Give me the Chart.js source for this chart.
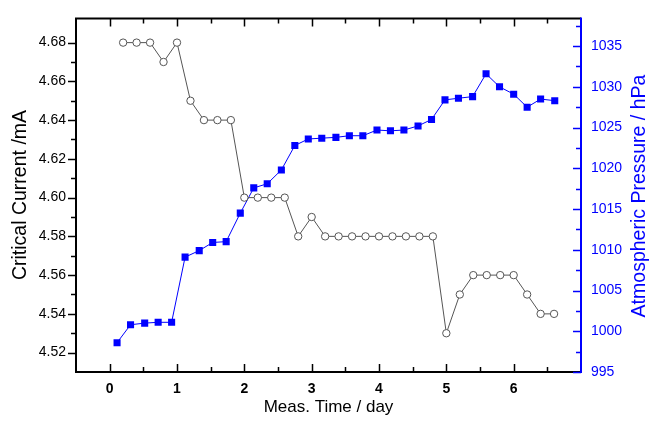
<!DOCTYPE html>
<html>
<head>
<meta charset="utf-8">
<script src="https://cdn.jsdelivr.net/npm/chart.js@4.4.1/dist/chart.umd.min.js"></script>
<style>
  html, body { margin: 0; padding: 0; background: #fff; }
  #wrap { width: 660px; height: 421px; position: relative; }
</style>
</head>
<body>
<div id="wrap"><canvas id="chart"></canvas></div>
<script>
// critical current, sampled every 0.2 day
const timeCurrent = [0.2, 0.4, 0.6, 0.8, 1.0, 1.2, 1.4, 1.6, 1.8, 2.0, 2.2, 2.4, 2.6, 2.8, 3.0, 3.2, 3.4,
	3.6, 3.8, 4.0, 4.2, 4.4, 4.6, 4.8, 5.0, 5.2, 5.4, 5.6, 5.8, 6.0, 6.2, 6.4, 6.6];
const current = [4.68, 4.68, 4.68, 4.67, 4.68, 4.65, 4.64, 4.64, 4.64, 4.60, 4.60, 4.60, 4.60, 4.58, 4.59, 4.58, 4.58,
	4.58, 4.58, 4.58, 4.58, 4.58, 4.58, 4.58, 4.53, 4.55, 4.56, 4.56, 4.56, 4.56, 4.55, 4.54, 4.54];

// atmospheric pressure
const timePressure = [0.11, 0.31, 0.52, 0.72, 0.92, 1.12, 1.33, 1.53, 1.73, 1.94, 2.14, 2.34, 2.55, 2.75, 2.95, 3.15, 3.36,
	3.56, 3.76, 3.97, 4.17, 4.37, 4.58, 4.78, 4.98, 5.18, 5.39, 5.59, 5.79, 6.00, 6.20, 6.40, 6.61];
const pressure = [998.6, 1000.8, 1001.0, 1001.1, 1001.1, 1009.1, 1009.9, 1010.9, 1011.0, 1014.5, 1017.6, 1018.1, 1019.8,
	1022.8, 1023.6, 1023.7, 1023.8, 1024.0, 1024.0, 1024.7, 1024.6, 1024.7, 1025.2, 1026.0, 1028.4, 1028.6, 1028.8,
	1031.6, 1030.0, 1029.1, 1027.5, 1028.5, 1028.3];

const xTicks = [0, 1, 2, 3, 4, 5, 6];
const xMinor = [0.5, 1.5, 2.5, 3.5, 4.5, 5.5, 6.5];
const currentTicks = [4.52, 4.54, 4.56, 4.58, 4.60, 4.62, 4.64, 4.66, 4.68];
const currentMinor = [4.53, 4.55, 4.57, 4.59, 4.61, 4.63, 4.65, 4.67];
const pressureTicks = [995, 1000, 1005, 1010, 1015, 1020, 1025, 1030, 1035];
const pressureMinor = [997.5, 1002.5, 1007.5, 1012.5, 1017.5, 1022.5, 1027.5, 1032.5, 1037.5];

const FONT = 'Arial, "Liberation Sans", sans-serif';
const BLUE = "#0000ff";

const toPairs = (xs, ys) => xs.map((x, i) => ({ x: x, y: ys[i] }));
const fixTicks = (list) => (scale) => {
	scale.ticks = list.map((v) => ({ value: v }));
};

function verticalTitle(ctx, text, x, y, color) {
	ctx.save();
	ctx.translate(x, y);
	ctx.rotate(-Math.PI / 2);
	ctx.fillStyle = color;
	ctx.font = "19.5px " + FONT;
	ctx.textAlign = "center";
	ctx.textBaseline = "middle";
	ctx.fillText(text, 0, 0);
	ctx.restore();
}

// frame, tick marks and both vertical titles
const framePlugin = {
	id: "frame",
	afterDraw(chart) {
		const ctx = chart.ctx;
		const { left, right, top, bottom } = chart.chartArea;
		const sx = chart.scales.x;
		const sl = chart.scales.yCurrent;
		const sr = chart.scales.yPressure;

		ctx.save();
		ctx.lineWidth = 2;
		ctx.lineCap = "butt";

		ctx.strokeStyle = "#000";
		ctx.beginPath();
		ctx.moveTo(right, top);
		ctx.lineTo(left, top);
		ctx.lineTo(left, bottom);
		ctx.lineTo(right, bottom);
		ctx.stroke();

		ctx.lineWidth = 1.5;
		const xMark = (v, len) => {
			const px = Math.round(sx.getPixelForValue(v)) + 0.5;
			ctx.moveTo(px, bottom);
			ctx.lineTo(px, bottom - len);
			ctx.moveTo(px, top);
			ctx.lineTo(px, top + len);
		};
		ctx.beginPath();
		xTicks.forEach((v) => xMark(v, 8));
		xMinor.forEach((v) => xMark(v, 5));
		currentTicks.forEach((v) => {
			const py = Math.round(sl.getPixelForValue(v)) + 0.5;
			ctx.moveTo(left, py);
			ctx.lineTo(left - 8, py);
		});
		currentMinor.forEach((v) => {
			const py = Math.round(sl.getPixelForValue(v)) + 0.5;
			ctx.moveTo(left, py);
			ctx.lineTo(left - 5, py);
		});
		ctx.stroke();

		ctx.strokeStyle = BLUE;
		ctx.lineWidth = 2;
		ctx.beginPath();
		ctx.moveTo(right, top - 1);
		ctx.lineTo(right, bottom + 1);
		ctx.stroke();

		ctx.lineWidth = 1.5;
		ctx.beginPath();
		pressureTicks.forEach((v) => {
			const py = Math.round(sr.getPixelForValue(v)) + 0.5;
			ctx.moveTo(right, py);
			ctx.lineTo(right - 8, py);
		});
		pressureMinor.forEach((v) => {
			const py = Math.round(sr.getPixelForValue(v)) + 0.5;
			ctx.moveTo(right, py);
			ctx.lineTo(right - 5, py);
		});
		ctx.stroke();
		ctx.restore();

		verticalTitle(ctx, "Critical Current /mA", 21, 195, "#000");
		verticalTitle(ctx, "Atmospheric Pressure / hPa", 640, 196, BLUE);
	},
};

const context = document.getElementById("chart").getContext("2d");

const chart = new Chart(context, {
	type: "scatter",
	data: {
		datasets: [
			{
				label: "Critical Current",
				data: toPairs(timeCurrent, current),
				yAxisID: "yCurrent",
				showLine: true,
				borderColor: "#555",
				borderWidth: 1,
				pointStyle: "circle",
				pointRadius: 3.7,
				pointBorderWidth: 1,
				pointBorderColor: "#555",
				pointBackgroundColor: "#fff",
			},
			{
				label: "Atmospheric Pressure",
				data: toPairs(timePressure, pressure),
				yAxisID: "yPressure",
				showLine: true,
				borderColor: BLUE,
				borderWidth: 1,
				pointStyle: "rect",
				pointRadius: 5,
				pointBorderWidth: 0,
				pointBackgroundColor: BLUE,
			},
		],
	},
	options: {
		responsive: true,
		maintainAspectRatio: false,
		animation: false,
		events: [],
		layout: { padding: { top: 12, left: 0, right: 0, bottom: 0 } },
		plugins: {
			legend: { display: false },
			tooltip: { enabled: false },
		},
		scales: {
			x: {
				type: "linear",
				position: "bottom",
				min: -0.5,
				max: 7,
				afterBuildTicks: fixTicks(xTicks),
				afterFit: (scale) => { scale.height = 49; },
				grid: { display: false, drawTicks: false },
				border: { display: false },
				ticks: {
					padding: 9,
					color: "#000",
					font: { family: FONT, size: 14, weight: "bold" },
					callback: (v) => String(v),
				},
				title: {
					display: true,
					text: "Meas. Time / day",
					color: "#000",
					font: { family: FONT, size: 17 },
					padding: { top: 0, bottom: 3 },
				},
			},
			yCurrent: {
				type: "linear",
				position: "left",
				min: 4.51,
				max: 4.6925,
				afterBuildTicks: fixTicks(currentTicks),
				afterFit: (scale) => { scale.width = 76; },
				grid: { display: false, drawTicks: false },
				border: { display: false },
				ticks: {
					padding: 10,
					color: "#000",
					font: { family: FONT, size: 14 },
					callback: (v) => v.toFixed(2),
				},
			},
			yPressure: {
				type: "linear",
				position: "right",
				min: 995,
				max: 1038.4,
				afterBuildTicks: fixTicks(pressureTicks),
				afterFit: (scale) => { scale.width = 79; },
				grid: { display: false, drawTicks: false },
				border: { display: false },
				ticks: {
					padding: 10,
					color: BLUE,
					font: { family: FONT, size: 14 },
					callback: (v) => String(v),
				},
			},
		},
	},
	plugins: [framePlugin],
});
</script>
</body>
</html>
